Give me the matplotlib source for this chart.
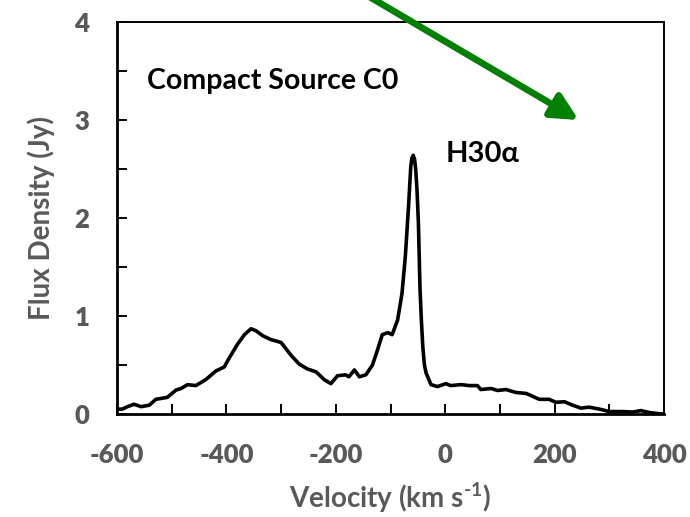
import matplotlib
matplotlib.use("Agg")
import matplotlib.pyplot as plt
from matplotlib.ticker import MultipleLocator

# Spectrum: velocity (km/s) and flux density (Jy)
velocity = [-601, -590, -581, -569, -556, -541, -529, -508, -492, -483,
            -471, -456, -438, -419, -404, -395, -380, -367, -355, -346,
            -334, -319, -300, -282, -267, -252, -236, -221, -209, -197,
            -182, -176, -166, -157, -145, -133, -124, -115, -105, -97,
            -87, -79, -73, -67, -63, -61, -58.5, -56, -54, -51.5,
            -49, -46, -43.5, -41, -38, -35, -26, -14, 1, 10,
            29, 44, 59, 65, 84, 96, 111, 129, 148, 160,
            172, 190, 202, 218, 233, 248, 263, 282, 300, 324,
            343, 358, 373, 388, 400]
flux = [0.05, 0.05, 0.075, 0.10, 0.075, 0.09, 0.15, 0.17, 0.245, 0.26,
        0.30, 0.29, 0.35, 0.44, 0.48, 0.57, 0.71, 0.81, 0.87, 0.85,
        0.80, 0.76, 0.73, 0.60, 0.51, 0.46, 0.43, 0.35, 0.31, 0.39,
        0.40, 0.38, 0.45, 0.38, 0.40, 0.50, 0.65, 0.81, 0.83, 0.81,
        0.96, 1.23, 1.60, 2.12, 2.52, 2.61, 2.64, 2.60, 2.50, 2.28,
        1.95, 1.27, 0.95, 0.69, 0.50, 0.42, 0.30, 0.28, 0.31, 0.29,
        0.30, 0.29, 0.29, 0.25, 0.26, 0.24, 0.25, 0.22, 0.21, 0.18,
        0.15, 0.15, 0.12, 0.125, 0.09, 0.06, 0.07, 0.05, 0.025, 0.025,
        0.02, 0.035, 0.015, 0.005, 0.0]

grey = "#595959"
font = ["Lato", "DejaVu Sans"]

plt.rcParams["axes.unicode_minus"] = False
plt.rcParams["mathtext.fontset"] = "custom"
plt.rcParams["mathtext.rm"] = "Lato:bold"
plt.rcParams["mathtext.bf"] = "Lato:bold"

# Canvas
fig = plt.figure(figsize=(6.9, 5.17), dpi=100)
ax = fig.add_axes([0.1696, 0.1992, 0.7927, 0.7582])

# Spectrum
ax.plot(velocity, flux, color="black", linewidth=2.6,
        solid_joinstyle="round", solid_capstyle="round")

# Axis ranges and ticks
ax.set_xlim(-600, 400)
ax.set_ylim(0, 4)
ax.xaxis.set_major_locator(MultipleLocator(200))
ax.xaxis.set_minor_locator(MultipleLocator(100))
ax.yaxis.set_major_locator(MultipleLocator(1))
ax.yaxis.set_minor_locator(MultipleLocator(0.5))
ax.tick_params(which="both", direction="in", length=7, width=1.4, color="black",
               top=False, right=False)
ax.tick_params(axis="x", which="major", pad=21)
ax.tick_params(axis="y", which="major", pad=20)
for lab in ax.get_xticklabels() + ax.get_yticklabels():
    lab.set_family(font)
    lab.set_fontsize(18.5)
    lab.set_fontweight("heavy")
    lab.set_color(grey)

for side in ["left", "bottom"]:
    ax.spines[side].set_linewidth(2.0)
for side in ["top", "right"]:
    ax.spines[side].set_linewidth(1.4)

# Axis labels
ax.set_xlabel(r"Velocity (km s$^{\text{-1}}$)", family=font, fontsize=20,
              fontweight="bold", color=grey, labelpad=9)
ax.set_ylabel("Flux Density (Jy)", family=font, fontsize=20,
              fontweight="bold", color=grey, labelpad=14)

# Annotations
ax.text(-545, 3.40, "Compact Source C0", family=font, fontsize=20.5,
        fontweight="bold", color="black", va="center", ha="left")
ax.text(0, 2.65, "H30\u03b1", family=font, fontsize=21,
        fontweight="bold", color="black", va="center", ha="left")

# Green arrow coming in from above the frame
ax.annotate("", xy=(244, 3.0), xytext=(-252, 4.63),
            arrowprops=dict(arrowstyle="-|>,head_length=0.8,head_width=0.4",
                            mutation_scale=20, lw=4.8, color="#008000",
                            shrinkA=0, shrinkB=0),
            annotation_clip=False)

plt.savefig("out.png", dpi=100)
